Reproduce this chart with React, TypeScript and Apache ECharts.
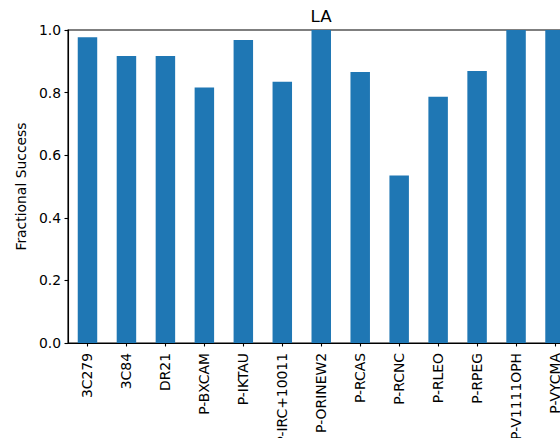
import React, { useEffect, useRef } from "react";
import * as echarts from "echarts";

const categories = [
  "3C279",
  "3C84",
  "DR21",
  "P-BXCAM",
  "P-IKTAU",
  "P-IRC+10011",
  "P-ORINEW2",
  "P-RCAS",
  "P-RCNC",
  "P-RLEO",
  "P-RPEG",
  "P-V1111OPH",
  "P-VYCMA",
];

const fractionalSuccess = [
  0.977, 0.917, 0.917, 0.816, 0.968, 0.835, 1.0, 0.866, 0.535, 0.787, 0.869, 1.0, 1.0,
];

const titleText = "LA";
const yAxisTitle = "Fractional Success";

const FONT = "DejaVu Sans";

export default function App() {
  const ref = useRef<HTMLDivElement>(null);

  useEffect(() => {
    if (!ref.current) return;
    const chart = echarts.init(ref.current, null, { renderer: "svg" });
    chart.setOption({
      animation: false,
      backgroundColor: "#ffffff",
      textStyle: { fontFamily: FONT },
      grid: {
        left: 68,
        top: 30,
        bottom: 95,
        right: -14.5,
        containLabel: false,
        outerBoundsMode: "none",
        show: true,
        borderColor: "#000000",
        borderWidth: 1.1,
        backgroundColor: "transparent",
      },
      graphic: [
        {
          type: "text",
          x: 321,
          y: 16,
          style: {
            text: titleText,
            fontFamily: FONT,
            fontSize: 16.7,
            fill: "#000000",
            textAlign: "center",
            textVerticalAlign: "middle",
          },
        },
      ],
      xAxis: {
        type: "category",
        data: categories,
        boundaryGap: true,
        axisLine: { show: true, lineStyle: { color: "#000000", width: 1.1 } },
        axisTick: {
          show: true,
          alignWithLabel: true,
          length: 3.5,
          lineStyle: { color: "#000000", width: 1.1 },
        },
        axisLabel: {
          interval: 0,
          rotate: 90,
          margin: 10,
          color: "#000000",
          fontFamily: FONT,
          fontSize: 13.9,
        },
        splitLine: { show: false },
      },
      yAxis: {
        type: "value",
        min: 0,
        max: 1,
        interval: 0.2,
        name: yAxisTitle,
        nameLocation: "middle",
        nameGap: 38,
        nameTextStyle: { color: "#000000", fontFamily: FONT, fontSize: 13.9 },
        axisLine: { show: true, lineStyle: { color: "#000000", width: 1.1 } },
        axisTick: { show: true, length: 3.5, lineStyle: { color: "#000000", width: 1.1 } },
        axisLabel: {
          margin: 7,
          color: "#000000",
          fontFamily: FONT,
          fontSize: 13.9,
          formatter: (v: number) => v.toFixed(1),
        },
        splitLine: { show: false },
      },
      series: [
        {
          type: "bar",
          data: fractionalSuccess,
          barWidth: "50%",
          itemStyle: { color: "#1f77b4" },
        },
      ],
    });
    return () => chart.dispose();
  }, []);

  return (
    <div
      ref={ref}
      style={{ position: "fixed", left: 0, top: 0, width: 560, height: 438 }}
    />
  );
}
